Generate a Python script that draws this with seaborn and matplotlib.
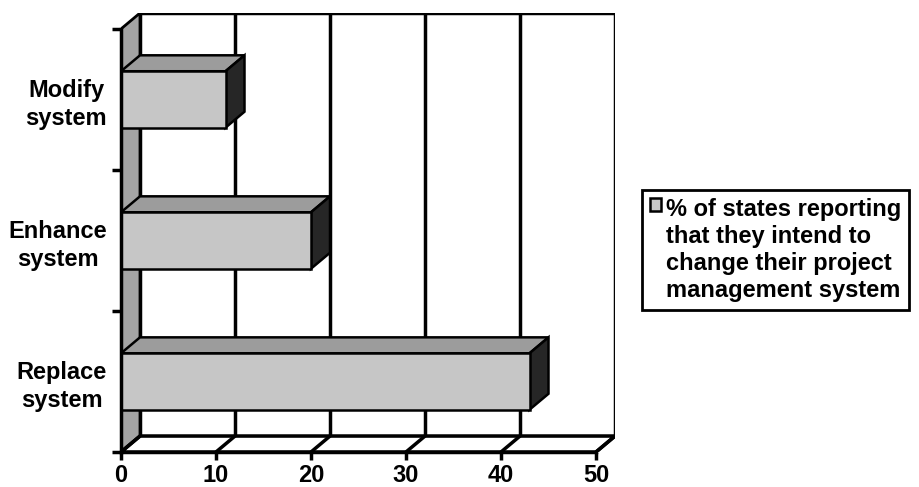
import matplotlib
matplotlib.use("Agg")
import matplotlib.pyplot as plt
import seaborn as sns
import pandas as pd
from matplotlib.patches import Polygon, Rectangle

# data
categories = ["Modify\nsystem", "Enhance\nsystem", "Replace\nsystem"]
percent = [11, 20, 43]
x_ticks = [0, 10, 20, 30, 40, 50]
legend_label = ("% of states reporting\nthat they intend to\n"
                "change their project\nmanagement system")

df = pd.DataFrame({"change": categories, "percent": percent})

sns.set_style("ticks")
plt.rcParams["font.family"] = ["Liberation Sans", "DejaVu Sans"]
plt.rcParams["font.weight"] = "bold"
plt.rcParams["text.color"] = "black"
plt.rcParams["xtick.color"] = "black"
plt.rcParams["ytick.color"] = "black"

front_col = "#c6c6c6"
top_col = "#9c9c9c"
side_col = "#262626"
wall_col = "#a4a4a4"

# depth of the fake 3d effect, in data units
dx, dy = 2.0, 0.113
xmax = x_ticks[-1]
n = len(categories)
y_lo, y_hi = -0.5, n - 0.5

fig = plt.figure(figsize=(9.19, 4.87), dpi=100)
ax = fig.add_axes([121 / 919, 35 / 487, 494 / 919, 439 / 487])
ax.patch.set_visible(False)

sns.barplot(data=df, x="percent", y="change", orient="h", width=0.4,
            color=front_col, saturation=1, edgecolor="black", linewidth=1.8,
            label=legend_label, ax=ax, zorder=5)
bars = list(ax.containers[0])
if ax.get_legend() is not None:
    ax.get_legend().remove()

# back wall with gridlines
ax.add_patch(Rectangle((dx, y_lo - dy), xmax, n, facecolor="white",
                       edgecolor="black", lw=2.5, zorder=1))
for v in x_ticks[1:-1]:
    ax.plot([v + dx, v + dx], [y_lo - dy, y_hi - dy], color="black", lw=2.5, zorder=2)

# left wall
ax.add_patch(Polygon([(0, y_lo), (dx, y_lo - dy), (dx, y_hi - dy), (0, y_hi)],
                     closed=True, facecolor=wall_col, edgecolor="black", lw=2, zorder=3))
# floor
ax.add_patch(Polygon([(0, y_hi), (xmax, y_hi), (xmax + dx, y_hi - dy), (dx, y_hi - dy)],
                     closed=True, facecolor="white", edgecolor="black", lw=2.5, zorder=3))
for v in x_ticks:
    ax.plot([v, v + dx], [y_hi, y_hi - dy], color="black", lw=2.5, zorder=3)

# top and side faces of each bar
for bar in bars:
    x0, y0 = bar.get_x(), bar.get_y()
    w, h = bar.get_width(), bar.get_height()
    ax.add_patch(Polygon([(x0, y0), (x0 + w, y0), (x0 + w + dx, y0 - dy), (x0 + dx, y0 - dy)],
                         closed=True, facecolor=top_col, edgecolor="black", lw=1.8, zorder=4))
    ax.add_patch(Polygon([(x0 + w, y0), (x0 + w, y0 + h), (x0 + w + dx, y0 + h - dy),
                          (x0 + w + dx, y0 - dy)],
                         closed=True, facecolor=side_col, edgecolor="black", lw=1.8, zorder=4))

ax.set_xlim(0, xmax + dx)
ax.set_ylim(y_hi, y_lo - dy)
ax.set_xlabel("")
ax.set_ylabel("")

for s in ["top", "right"]:
    ax.spines[s].set_visible(False)
ax.spines["left"].set_bounds(y_lo, y_hi)
ax.spines["bottom"].set_bounds(0, xmax)
for s in ["left", "bottom"]:
    ax.spines[s].set_linewidth(2.5)
    ax.spines[s].set_color("black")
    ax.spines[s].set_zorder(6)

ax.set_xticks(x_ticks)
ax.set_xticklabels([str(v) for v in x_ticks], fontsize=17, fontweight="bold")
ax.tick_params(axis="x", length=6, width=2.5, direction="out", pad=3)

ax.set_yticks(range(n))
ax.set_yticklabels(categories, fontsize=17, fontweight="bold")
ax.set_yticks([y_lo + i for i in range(n + 1)], minor=True)
ax.tick_params(axis="y", which="major", length=0, pad=10)
ax.tick_params(axis="y", which="minor", length=6.5, width=2.5, direction="out")
for t in ax.get_yticklabels():
    t.set_multialignment("center")
    t.set_linespacing(1.3)

handles, labels = ax.get_legend_handles_labels()
leg = fig.legend(handles[:1], labels[:1], loc="upper left",
                 bbox_to_anchor=(642 / 919, 1 - 190 / 487), frameon=True,
                 fancybox=False, edgecolor="black", framealpha=1, borderpad=0.35,
                 handlelength=0.45, handleheight=0.45, handletextpad=0.2,
                 borderaxespad=0, prop={"size": 17, "weight": "bold"})
leg.get_frame().set_linewidth(2)
leg.get_texts()[0].set_linespacing(1.22)
try:
    leg._legend_handle_box.get_children()[0].get_children()[0].align = "top"
except Exception:
    pass

fig.savefig("out.png", dpi=100)
